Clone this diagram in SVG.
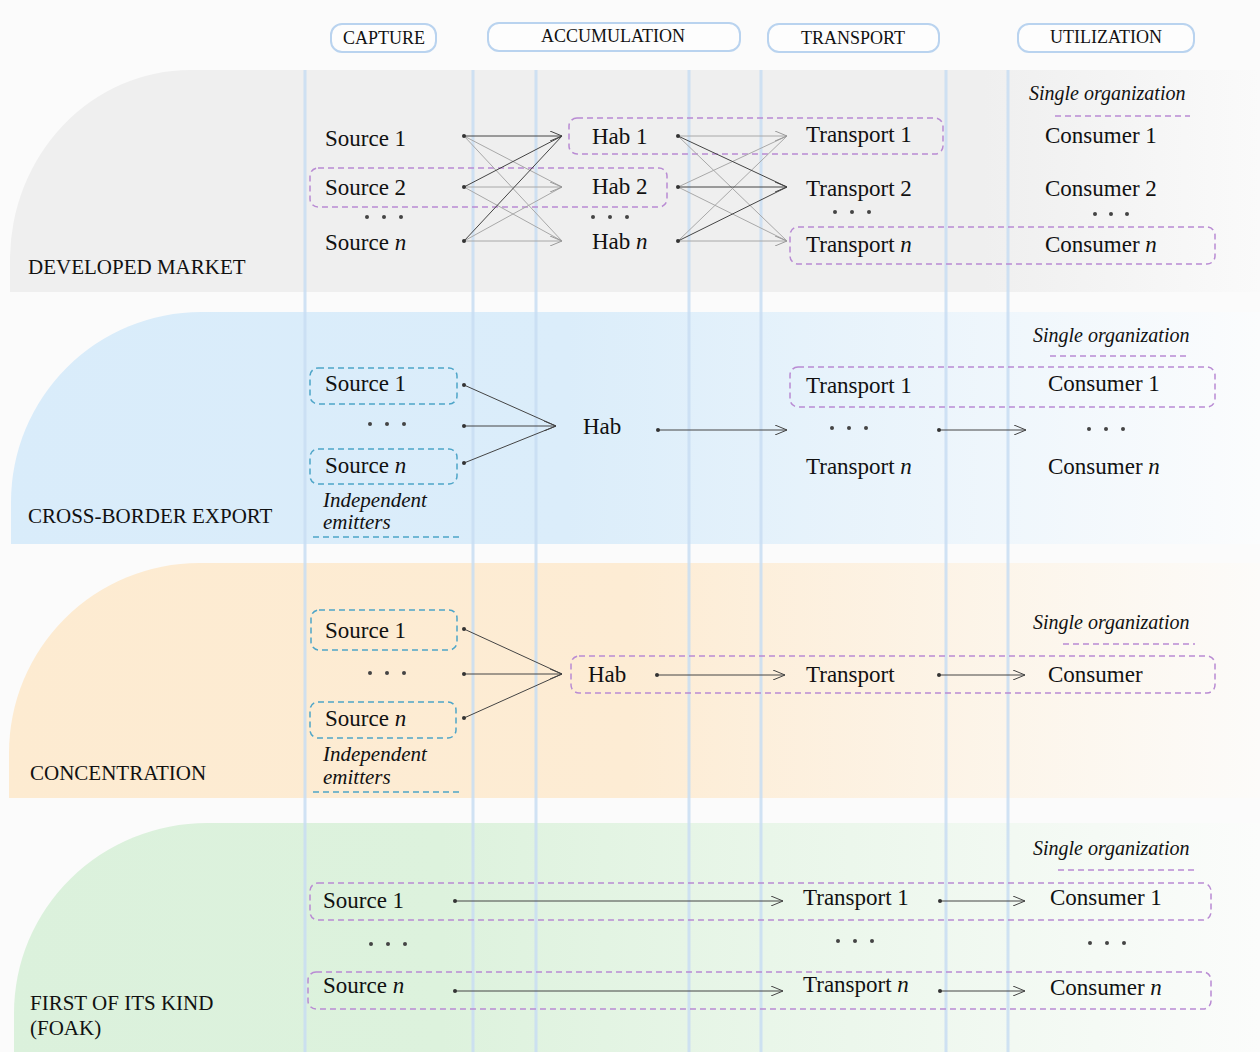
<svg xmlns="http://www.w3.org/2000/svg" width="1260" height="1052" viewBox="0 0 1260 1052">
<defs>
  <linearGradient id="g1" gradientUnits="userSpaceOnUse" x1="0" y1="0" x2="1260" y2="0">
    <stop offset="0" stop-color="#efefef"/><stop offset="0.78" stop-color="#efefef"/><stop offset="1" stop-color="#fafafa"/>
  </linearGradient>
  <linearGradient id="g2" gradientUnits="userSpaceOnUse" x1="0" y1="0" x2="1260" y2="0">
    <stop offset="0" stop-color="#d9ecfa"/><stop offset="0.45" stop-color="#dbedfa"/><stop offset="1" stop-color="#fbfcfd"/>
  </linearGradient>
  <linearGradient id="g3" gradientUnits="userSpaceOnUse" x1="0" y1="0" x2="1260" y2="0">
    <stop offset="0" stop-color="#fdebd1"/><stop offset="0.5" stop-color="#fdecd4"/><stop offset="1" stop-color="#fcfbf9"/>
  </linearGradient>
  <linearGradient id="g4" gradientUnits="userSpaceOnUse" x1="0" y1="0" x2="1260" y2="0">
    <stop offset="0" stop-color="#dbf1dc"/><stop offset="0.35" stop-color="#ddf2dd"/><stop offset="1" stop-color="#fbfcfb"/>
  </linearGradient>
  <marker id="ad" viewBox="0 0 13 10" refX="12" refY="5" markerWidth="13" markerHeight="10" markerUnits="userSpaceOnUse" orient="auto">
    <path d="M0,0 L12,5 L0,10" fill="none" stroke="#444" stroke-width="1"/>
  </marker>
  <marker id="al" viewBox="0 0 13 10" refX="12" refY="5" markerWidth="13" markerHeight="10" markerUnits="userSpaceOnUse" orient="auto">
    <path d="M0,0 L12,5 L0,10" fill="none" stroke="#999" stroke-width="1"/>
  </marker>
  <style>
    text { font-family: "Liberation Serif", "Times New Roman", serif; fill: #111; }
    .n { font-size: 23px; }
    .hd { font-size: 18px; text-anchor: middle; }
    .bl { font-size: 21px; }
    .it { font-size: 21px; font-style: italic; }
    .org { font-size: 20px; font-style: italic; }
    .pill { fill: #fdfdfd; stroke: #b9d3ef; stroke-width: 2; }
    .vl { stroke: #c9def3; stroke-width: 3; opacity: 0.85; }
    .pb { fill: none; stroke: #b98bd3; stroke-width: 1.5; stroke-dasharray: 6 4; }
    .tb { fill: none; stroke: #4ea5c8; stroke-width: 1.5; stroke-dasharray: 6 4; }
    .pu { stroke: #b98bd3; stroke-width: 1.5; stroke-dasharray: 6 4; }
    .tu { stroke: #4ea5c8; stroke-width: 1.5; stroke-dasharray: 6 4; }
    .cd { stroke: #444; stroke-width: 1; fill: none; }
    .cl { stroke: #a8a8a8; stroke-width: 1; fill: none; }
    .dot { fill: #333; }
    .el { fill: #444; }
  </style>
</defs>

<rect x="0" y="0" width="1260" height="1052" fill="#fbfbfb"/>

<!-- bands -->
<g id="bands">
  <path d="M10,292 L10,260 A180,190 0 0 1 190,70 L1260,70 L1260,292 Z" fill="url(#g1)"/>
  <path d="M11,544 L11,502 A190,190 0 0 1 201,312 L1260,312 L1260,544 Z" fill="url(#g2)"/>
  <path d="M9,798 L9,753 A190,190 0 0 1 199,563 L1260,563 L1260,798 Z" fill="url(#g3)"/>
  <path d="M14,1052 L14,1013 A193,190 0 0 1 207,823 L1260,823 L1260,1052 Z" fill="url(#g4)"/>
</g>

<!-- vertical guide lines -->
<g id="guides">
  <line class="vl" x1="305" y1="70" x2="305" y2="1052"/>
  <line class="vl" x1="473" y1="70" x2="473" y2="1052"/>
  <line class="vl" x1="536" y1="70" x2="536" y2="1052"/>
  <line class="vl" x1="689" y1="70" x2="689" y2="1052"/>
  <line class="vl" x1="761" y1="70" x2="761" y2="1052"/>
  <line class="vl" x1="946" y1="70" x2="946" y2="1052"/>
  <line class="vl" x1="1008" y1="70" x2="1008" y2="1052"/>
</g>

<!-- headers -->
<g id="hdr-capture"><rect class="pill" x="331" y="24" width="105" height="28" rx="11"/><text class="hd" x="384" y="44">CAPTURE</text></g>
<g id="hdr-accumulation"><rect class="pill" x="488" y="23" width="252" height="28" rx="11"/><text class="hd" x="613" y="42">ACCUMULATION</text></g>
<g id="hdr-transport"><rect class="pill" x="768" y="24" width="171" height="28" rx="11"/><text class="hd" x="853" y="44">TRANSPORT</text></g>
<g id="hdr-utilization"><rect class="pill" x="1018" y="24" width="176" height="28" rx="11"/><text class="hd" x="1106" y="43">UTILIZATION</text></g>

<!-- band labels -->
<g id="lbl-developed"><text class="bl" x="28" y="274">DEVELOPED MARKET</text></g>
<g id="lbl-crossborder"><text class="bl" x="28" y="523">CROSS-BORDER EXPORT</text></g>
<g id="lbl-concentration"><text class="bl" x="30" y="780">CONCENTRATION</text></g>
<g id="lbl-foak"><text class="bl" x="30" y="1010">FIRST OF ITS KIND</text><text class="bl" x="30" y="1035">(FOAK)</text></g>

<!-- organization groupings -->
<g id="groups">
  <rect class="pb" x="569" y="118" width="374" height="36" rx="8"/>
  <rect class="pb" x="310" y="168" width="357" height="39" rx="8"/>
  <rect class="pb" x="790" y="227" width="425" height="37" rx="8"/>
  <text class="org" x="1029" y="100">Single organization</text>
  <line class="pu" x1="1055" y1="116" x2="1190" y2="116"/>

  <rect class="tb" x="310" y="368" width="147" height="36" rx="8"/>
  <rect class="tb" x="310" y="449" width="147" height="35" rx="8"/>
  <text class="it" x="323" y="507">Independent</text>
  <text class="it" x="323" y="529">emitters</text>
  <line class="tu" x1="313" y1="537" x2="460" y2="537"/>
  <rect class="pb" x="790" y="367" width="425" height="40" rx="8"/>
  <text class="org" x="1033" y="342">Single organization</text>
  <line class="pu" x1="1050" y1="356" x2="1190" y2="356"/>

  <rect class="tb" x="311" y="610" width="146" height="40" rx="8"/>
  <rect class="tb" x="310" y="702" width="146" height="36" rx="8"/>
  <text class="it" x="323" y="761">Independent</text>
  <text class="it" x="323" y="784">emitters</text>
  <line class="tu" x1="313" y1="792" x2="460" y2="792"/>
  <rect class="pb" x="571" y="656" width="644" height="37" rx="8"/>
  <text class="org" x="1033" y="629">Single organization</text>
  <line class="pu" x1="1063" y1="644" x2="1195" y2="644"/>

  <rect class="pb" x="310" y="883" width="901" height="37" rx="8"/>
  <rect class="pb" x="308" y="972" width="903" height="37" rx="8"/>
  <text class="org" x="1033" y="855">Single organization</text>
  <line class="pu" x1="1058" y1="870" x2="1197" y2="870"/>
</g>

<!-- connectors -->
<g id="connectors">
  <!-- developed: sources to habs -->
  <line class="cl" x1="464" y1="136" x2="562" y2="187"/>
  <line class="cl" x1="464" y1="136" x2="562" y2="241"/>
  <line class="cl" x1="464" y1="187" x2="562" y2="241"/>
  <line class="cl" x1="464" y1="241" x2="562" y2="187"/>
  <line class="cl" x1="464" y1="187" x2="562" y2="187" marker-end="url(#al)"/>
  <line class="cl" x1="464" y1="241" x2="562" y2="241" marker-end="url(#al)"/>
  <line class="cd" x1="464" y1="187" x2="562" y2="136"/>
  <line class="cd" x1="464" y1="241" x2="562" y2="136"/>
  <line class="cd" x1="464" y1="136" x2="562" y2="136" marker-end="url(#ad)"/>
  <!-- developed: habs to transports -->
  <line class="cl" x1="678" y1="187" x2="787" y2="136"/>
  <line class="cl" x1="678" y1="241" x2="787" y2="136"/>
  <line class="cl" x1="678" y1="136" x2="787" y2="241"/>
  <line class="cl" x1="678" y1="187" x2="787" y2="241"/>
  <line class="cl" x1="678" y1="136" x2="787" y2="136" marker-end="url(#al)"/>
  <line class="cl" x1="678" y1="241" x2="787" y2="241" marker-end="url(#al)"/>
  <line class="cd" x1="678" y1="136" x2="787" y2="187"/>
  <line class="cd" x1="678" y1="241" x2="787" y2="187"/>
  <line class="cd" x1="678" y1="187" x2="787" y2="187" marker-end="url(#ad)"/>

  <!-- cross-border -->
  <line class="cd" x1="464" y1="385" x2="556" y2="426"/>
  <line class="cd" x1="464" y1="463" x2="556" y2="426"/>
  <line class="cd" x1="464" y1="426" x2="556" y2="426" marker-end="url(#ad)"/>
  <line class="cd" x1="658" y1="430" x2="787" y2="430" marker-end="url(#ad)"/>
  <line class="cd" x1="939" y1="430" x2="1026" y2="430" marker-end="url(#ad)"/>

  <!-- concentration -->
  <line class="cd" x1="464" y1="629" x2="562" y2="674"/>
  <line class="cd" x1="464" y1="718" x2="562" y2="674"/>
  <line class="cd" x1="464" y1="674" x2="562" y2="674" marker-end="url(#ad)"/>
  <line class="cd" x1="657" y1="675" x2="785" y2="675" marker-end="url(#ad)"/>
  <line class="cd" x1="939" y1="675" x2="1025" y2="675" marker-end="url(#ad)"/>

  <!-- FOAK -->
  <line class="cd" x1="455" y1="901" x2="783" y2="901" marker-end="url(#ad)"/>
  <line class="cd" x1="940" y1="901" x2="1025" y2="901" marker-end="url(#ad)"/>
  <line class="cd" x1="455" y1="991" x2="783" y2="991" marker-end="url(#ad)"/>
  <line class="cd" x1="940" y1="991" x2="1025" y2="991" marker-end="url(#ad)"/>

  <!-- start dots -->
  <circle class="dot" cx="464" cy="136" r="2"/><circle class="dot" cx="464" cy="187" r="2"/><circle class="dot" cx="464" cy="241" r="2"/>
  <circle class="dot" cx="678" cy="136" r="2"/><circle class="dot" cx="678" cy="187" r="2"/><circle class="dot" cx="678" cy="241" r="2"/>
  <circle class="dot" cx="464" cy="385" r="2"/><circle class="dot" cx="464" cy="426" r="2"/><circle class="dot" cx="464" cy="463" r="2"/>
  <circle class="dot" cx="658" cy="430" r="2"/><circle class="dot" cx="939" cy="430" r="2"/>
  <circle class="dot" cx="464" cy="629" r="2"/><circle class="dot" cx="464" cy="674" r="2"/><circle class="dot" cx="464" cy="718" r="2"/>
  <circle class="dot" cx="657" cy="675" r="2"/><circle class="dot" cx="939" cy="675" r="2"/>
  <circle class="dot" cx="455" cy="901" r="2"/><circle class="dot" cx="940" cy="901" r="2"/>
  <circle class="dot" cx="455" cy="991" r="2"/><circle class="dot" cx="940" cy="991" r="2"/>
</g>

<!-- ellipsis dots -->
<g id="ellipses">
  <circle class="el" cx="367" cy="217" r="2"/><circle class="el" cx="384" cy="217" r="2"/><circle class="el" cx="401" cy="217" r="2"/>
  <circle class="el" cx="593" cy="217" r="2"/><circle class="el" cx="610" cy="217" r="2"/><circle class="el" cx="627" cy="217" r="2"/>
  <circle class="el" cx="835" cy="212" r="2"/><circle class="el" cx="852" cy="212" r="2"/><circle class="el" cx="869" cy="212" r="2"/>
  <circle class="el" cx="1095" cy="214" r="2"/><circle class="el" cx="1111" cy="214" r="2"/><circle class="el" cx="1127" cy="214" r="2"/>

  <circle class="el" cx="370" cy="424" r="2"/><circle class="el" cx="387" cy="424" r="2"/><circle class="el" cx="404" cy="424" r="2"/>
  <circle class="el" cx="832" cy="428" r="2"/><circle class="el" cx="849" cy="428" r="2"/><circle class="el" cx="866" cy="428" r="2"/>
  <circle class="el" cx="1089" cy="429" r="2"/><circle class="el" cx="1106" cy="429" r="2"/><circle class="el" cx="1123" cy="429" r="2"/>

  <circle class="el" cx="370" cy="673" r="2"/><circle class="el" cx="387" cy="673" r="2"/><circle class="el" cx="404" cy="673" r="2"/>

  <circle class="el" cx="371" cy="944" r="2"/><circle class="el" cx="388" cy="944" r="2"/><circle class="el" cx="405" cy="944" r="2"/>
  <circle class="el" cx="838" cy="941" r="2"/><circle class="el" cx="855" cy="941" r="2"/><circle class="el" cx="872" cy="941" r="2"/>
  <circle class="el" cx="1090" cy="943" r="2"/><circle class="el" cx="1107" cy="943" r="2"/><circle class="el" cx="1124" cy="943" r="2"/>
</g>

<!-- developed market nodes -->
<g id="dm-source1"><text class="n" x="325" y="146">Source 1</text></g>
<g id="dm-source2"><text class="n" x="325" y="195">Source 2</text></g>
<g id="dm-sourcen"><text class="n" x="325" y="250">Source <tspan font-style="italic">n</tspan></text></g>
<g id="dm-hab1"><text class="n" x="592" y="144">Hab 1</text></g>
<g id="dm-hab2"><text class="n" x="592" y="194">Hab 2</text></g>
<g id="dm-habn"><text class="n" x="592" y="249">Hab <tspan font-style="italic">n</tspan></text></g>
<g id="dm-transport1"><text class="n" x="806" y="142">Transport 1</text></g>
<g id="dm-transport2"><text class="n" x="806" y="196">Transport 2</text></g>
<g id="dm-transportn"><text class="n" x="806" y="252">Transport <tspan font-style="italic">n</tspan></text></g>
<g id="dm-consumer1"><text class="n" x="1045" y="143">Consumer 1</text></g>
<g id="dm-consumer2"><text class="n" x="1045" y="196">Consumer 2</text></g>
<g id="dm-consumern"><text class="n" x="1045" y="252">Consumer <tspan font-style="italic">n</tspan></text></g>

<!-- cross-border nodes -->
<g id="cb-source1"><text class="n" x="325" y="391">Source 1</text></g>
<g id="cb-sourcen"><text class="n" x="325" y="473">Source <tspan font-style="italic">n</tspan></text></g>
<g id="cb-hab"><text class="n" x="583" y="434">Hab</text></g>
<g id="cb-transport1"><text class="n" x="806" y="393">Transport 1</text></g>
<g id="cb-transportn"><text class="n" x="806" y="474">Transport <tspan font-style="italic">n</tspan></text></g>
<g id="cb-consumer1"><text class="n" x="1048" y="391">Consumer 1</text></g>
<g id="cb-consumern"><text class="n" x="1048" y="474">Consumer <tspan font-style="italic">n</tspan></text></g>

<!-- concentration nodes -->
<g id="cc-source1"><text class="n" x="325" y="638">Source 1</text></g>
<g id="cc-sourcen"><text class="n" x="325" y="726">Source <tspan font-style="italic">n</tspan></text></g>
<g id="cc-hab"><text class="n" x="588" y="682">Hab</text></g>
<g id="cc-transport"><text class="n" x="806" y="682">Transport</text></g>
<g id="cc-consumer"><text class="n" x="1048" y="682">Consumer</text></g>

<!-- FOAK nodes -->
<g id="fk-source1"><text class="n" x="323" y="908">Source 1</text></g>
<g id="fk-transport1"><text class="n" x="803" y="905">Transport 1</text></g>
<g id="fk-consumer1"><text class="n" x="1050" y="905">Consumer 1</text></g>
<g id="fk-sourcen"><text class="n" x="323" y="993">Source <tspan font-style="italic">n</tspan></text></g>
<g id="fk-transportn"><text class="n" x="803" y="992">Transport <tspan font-style="italic">n</tspan></text></g>
<g id="fk-consumern"><text class="n" x="1050" y="995">Consumer <tspan font-style="italic">n</tspan></text></g>
</svg>
